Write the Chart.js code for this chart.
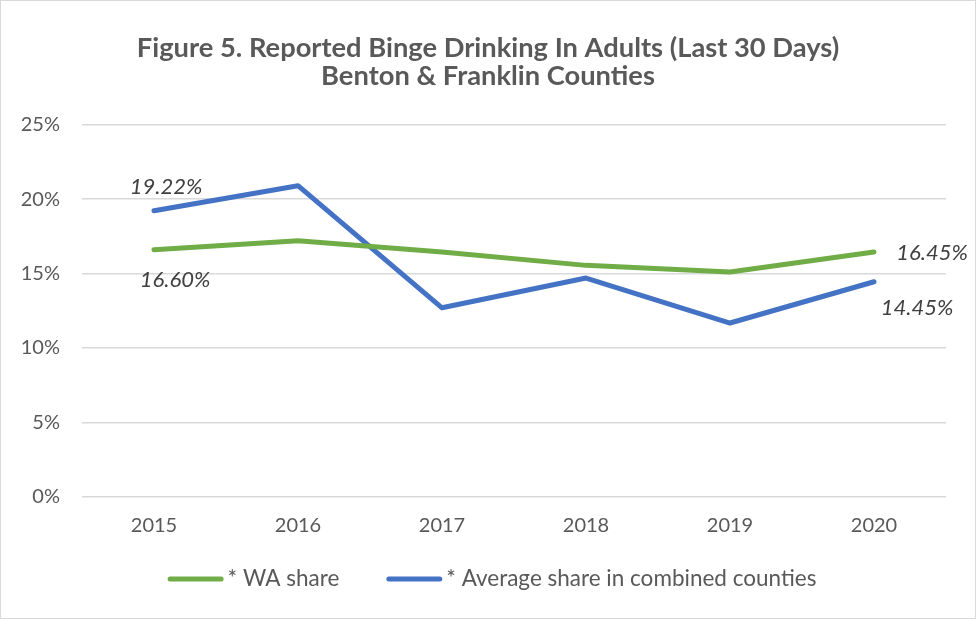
<!DOCTYPE html>
<html><head><meta charset="utf-8">
<script src="https://cdn.jsdelivr.net/npm/chart.js@4"></script>
<style>
html,body{margin:0;padding:0;background:#fff;}
#wrap{position:relative;width:974px;height:617px;border:1px solid #d9d9d9;}
</style></head>
<body><div id="wrap"><canvas id="c" width="974" height="617"></canvas></div>
<script>
const years = ["2015","2016","2017","2018","2019","2020"];
const waShare = [16.60, 17.2, 16.45, 15.55, 15.1, 16.45];
const countiesShare = [19.22, 20.9, 12.7, 14.7, 11.68, 14.45];
const seriesNames = ["* WA share", "* Average share in combined counties"];
const yTicks = [0, 5, 10, 15, 20, 25];
const titleLines = ["Figure 5. Reported Binge Drinking In Adults (Last 30 Days)", "Benton & Franklin Counties"];

const FONT = "Lato";
const labelOffsets = [
  {0: [21, 30], 5: [58, 1]},
  {0: [12, -24], 5: [43, 26]}
];
const labelPlugin = {
  id: 'pointLabels',
  afterDatasetsDraw(chart) {
    const ctx = chart.ctx;
    ctx.save();
    ctx.font = "italic 22px " + FONT;
    ctx.fillStyle = "#404040";
    ctx.textAlign = "center";
    ctx.textBaseline = "middle";
    chart.data.datasets.forEach((ds, di) => {
      const meta = chart.getDatasetMeta(di);
      const offs = labelOffsets[di];
      Object.keys(offs).forEach(k => {
        const i = +k;
        const pt = meta.data[i];
        ctx.fillText(ds.data[i].toFixed(2) + "%", pt.x + offs[k][0], pt.y + offs[k][1]);
      });
    });
    ctx.restore();
  }
};

// Legend drawn from the datasets (names and colours)
const legendPlugin = {
  id: 'lineLegend',
  afterDraw(chart) {
    const ctx = chart.ctx;
    ctx.save();
    ctx.font = "22.5px " + FONT;
    ctx.textBaseline = "middle";
    ctx.textAlign = "left";
    const boxW = 56, gapText = 4, gapItem = 47;
    const items = chart.data.datasets.map(ds => ({text: ds.label, color: ds.borderColor, w: ctx.measureText(ds.label).width}));
    let total = 0;
    items.forEach((it, i) => { total += boxW + gapText + it.w + (i < items.length - 1 ? gapItem : 0); });
    let x = (chart.width - total) / 2 + 4;
    const y = chart.chartArea.bottom + 82;
    items.forEach(it => {
      ctx.strokeStyle = it.color;
      ctx.lineWidth = 5;
      ctx.lineCap = 'round';
      ctx.beginPath();
      ctx.moveTo(x + 2.5, y);
      ctx.lineTo(x + boxW - 2.5, y);
      ctx.stroke();
      x += boxW + gapText;
      ctx.fillStyle = '#595959';
      ctx.fillText(it.text, x, y);
      x += it.w + gapItem;
    });
    ctx.restore();
  }
};

new Chart(document.getElementById('c'), {
  type: 'line',
  data: {
    labels: years,
    datasets: [
      {label: seriesNames[0], data: waShare, borderColor: '#70AD47', backgroundColor: '#70AD47', borderWidth: 5, pointRadius: 0, tension: 0, borderCapStyle: 'round', borderJoinStyle: 'round'},
      {label: seriesNames[1], data: countiesShare, borderColor: '#4472C4', backgroundColor: '#4472C4', borderWidth: 5, pointRadius: 0, tension: 0, borderCapStyle: 'round', borderJoinStyle: 'round'}
    ]
  },
  options: {
    responsive: false,
    animation: false,
    layout: {padding: {left: 0, right: 0, top: 0, bottom: 63}},
    plugins: {
      title: {display: true, text: titleLines, color: '#595959', font: {family: FONT, size: 27.3, weight: 'bold', lineHeight: 1.0}, padding: {top: 34, bottom: 35}},
      legend: {display: false},
      tooltip: {enabled: false}
    },
    scales: {
      x: {offset: true, grid: {display: false, drawTicks: false}, border: {display: false},
          ticks: {color: '#595959', font: {family: FONT, size: 20}, padding: 17}},
      y: {min: 0, max: 25, afterBuildTicks(s){ s.ticks = yTicks.map(v => ({value: v})); },
          afterFit(s){ s.width = 81; },
          grid: {color: '#d9d9d9', lineWidth: 1.5, drawTicks: false}, border: {display: false},
          ticks: {color: '#595959', font: {family: FONT, size: 20}, padding: 22, callback: v => v + '%'}},
      yRight: {position: 'right', min: 0, max: 1, grid: {display: false, drawTicks: false}, border: {display: false},
          ticks: {display: false}, afterFit(s){ s.width = 29; }}
    }
  },
  plugins: [labelPlugin, legendPlugin]
});
</script></body></html>
